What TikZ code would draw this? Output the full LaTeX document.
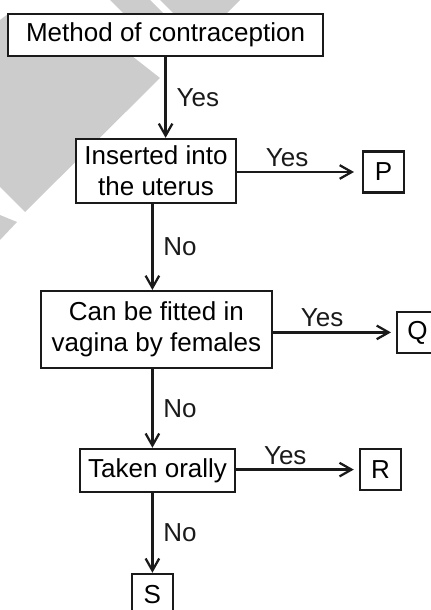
\documentclass[tikz,border=0pt]{standalone}
\usepackage{fontspec}
\setmainfont{Liberation Sans}
\usetikzlibrary{arrows.meta, positioning}
\definecolor{cline}{HTML}{1A1A1A}
\definecolor{cmark}{HTML}{CCCCCC}
\tikzset{
  every picture/.style={font=\fontsize{18.5}{22}\selectfont, line width=1.6pt},
  box/.style={draw=cline, fill=white, align=center, inner sep=2pt},
  ans/.style={box, minimum width=1.025cm, minimum height=1.025cm},
  arrow/.style={-{Straight Barb[length=3mm, width=3.4mm]}, draw=cline, line width=1.6pt},
  lbl/.style={inner sep=3pt, text=cline},
}

\begin{document}
\begin{tikzpicture}
  \useasboundingbox (0,0) rectangle (10.775,-15.25);
  % faint marks behind the chart
  \fill[cmark] (0,-0.5) -- (0.2,-0.35) -- (3.3,-1.4) -- (4.0,-1.95) -- (0.625,-5.3) -- (0,-4.675) -- cycle;
  \fill[cmark] (2.75,0) -- (3.75,0) -- (4.1,-0.35) -- (3.1,-0.35) -- cycle;
  \fill[cmark] (4.0,0) -- (6.0,0) -- (5.65,-0.35) -- (4.35,-0.35) -- cycle;
  \fill[cmark] (0,-5.375) -- (0.425,-5.55) -- (0,-6.0) -- cycle;
  % questions
  \node[box, minimum width=7.875cm, minimum height=1.05cm] (meth) at (4.14,-0.875) {Method of contraception};
  \node[box, minimum width=4.0cm, minimum height=1.6cm] (ins) at (3.9,-4.275) {Inserted into\\the uterus};
  \node[box, minimum width=5.775cm, minimum height=1.925cm] (fit) at (3.91,-8.24) {Can be fitted in\\vagina by females};
  \node[box, minimum width=3.875cm, minimum height=1.075cm] (tak) at (3.94,-11.76) {Taken orally};
  % answers
  \node[ans] (p) at (9.59,-4.3) {P};
  \node[ans] (q) at (10.44,-8.31) {Q};
  \node[ans] (r) at (9.51,-11.74) {R};
  \node[ans] (s) at (3.81,-14.86) {S};
  \draw[arrow] (meth.south) -- node[lbl, right=4pt] {Yes} (meth.south |- ins.north);
  \foreach \f/\t in {ins/fit, fit/tak, tak/s}
    \draw[arrow] (\f.south -| s.north) -- node[lbl, right=4pt] {No} (\t.north -| s.north);
  \foreach \f/\t/\g in {ins/p/0.2cm, fit/q/0.125cm, tak/r/0.125cm}
    \draw[arrow, shorten >=\g] (\f.east |- \t.west) -- node[lbl, above, pos=0.4] {Yes} (\t.west);
\end{tikzpicture}
\end{document}
